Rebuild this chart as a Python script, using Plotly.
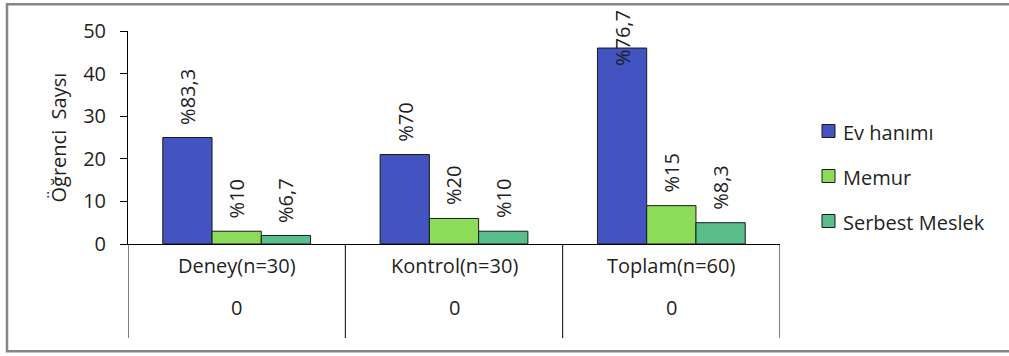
import plotly.graph_objects as go

# Data
categories = ["Deney(n=30)", "Kontrol(n=30)", "Toplam(n=60)"]
sub_labels = ["0", "0", "0"]
series_names = ["Ev hanımı", "Memur", "Serbest Meslek"]
ev_hanimi = [25, 21, 46]
memur = [3, 6, 9]
serbest_meslek = [2, 3, 5]
ev_hanimi_pct = ["%83,3", "%70", "%76,7"]
memur_pct = ["%10", "%20", "%15"]
serbest_meslek_pct = ["%6,7", "%10", "%8,3"]
y_ticks = [0, 10, 20, 30, 40, 50]

values = [ev_hanimi, memur, serbest_meslek]
pct_labels = [ev_hanimi_pct, memur_pct, serbest_meslek_pct]
colors = ["#4353BF", "#8CDC5A", "#5ABE8C"]

# Layout geometry (pixels)
W, H = 1009, 356
L, R, T, B = 128, 780, 31, 244
PW, PH = R - L, B - T
FONT = "Open Sans"
TXT = "#1f1f1f"
FS = 20


def px_x(px):
    return (px - L) / PW


def px_y(py):
    return (B - py) / PH


bargap = 0.32
bar_w = (1 - bargap) / len(series_names)
x_pos = list(range(len(categories)))

fig = go.Figure()
for name, vals, col in zip(series_names, values, colors):
    fig.add_trace(go.Bar(
        x=x_pos, y=vals, name=name,
        marker=dict(color=col, line=dict(color="#1a1a1a", width=1)),
        showlegend=False,
    ))

annotations = []
shapes = []

# Rotated value labels above bars; a label that would run past the
# top of the frame is pinned to the frame top instead.
label_room = 17  # data units needed above a bar for the label
for j, (vals, labs) in enumerate(zip(values, pct_labels)):
    offset = (j - 1) * bar_w
    for i, (v, t) in enumerate(zip(vals, labs)):
        base = dict(x=i + offset, xref="x", xanchor="center", text=t, textangle=-90,
                    showarrow=False, font=dict(family=FONT, size=FS, color=TXT))
        if v + label_room > y_ticks[-1] + 3:
            annotations.append(dict(base, y=px_y(8), yref="paper", yanchor="top"))
        else:
            annotations.append(dict(base, y=v, yref="y", yanchor="bottom", yshift=11))

# Category labels and the second label row
for i, (c, s) in enumerate(zip(categories, sub_labels)):
    annotations.append(dict(x=i, xref="x", xanchor="center", y=px_y(281), yref="paper",
                            text=c, showarrow=False,
                            font=dict(family=FONT, size=FS, color=TXT)))
    annotations.append(dict(x=i, xref="x", xanchor="center", y=px_y(323), yref="paper",
                            text=s, showarrow=False,
                            font=dict(family=FONT, size=FS, color=TXT)))

# Category divider lines below the axis
for k in range(len(categories) + 1):
    shapes.append(dict(type="line", xref="x", yref="paper", x0=k - 0.5, x1=k - 0.5,
                       y0=0, y1=px_y(338), line=dict(color="#000000", width=1)))

# Y axis title
annotations.append(dict(x=px_x(58), xref="paper", xanchor="center",
                        y=0.5, yref="paper", yanchor="middle",
                        text="Öğrenci  Saysı", textangle=-90, showarrow=False,
                        font=dict(family=FONT, size=FS, color=TXT)))

# Legend
for j, (name, col) in enumerate(zip(series_names, colors)):
    cy = 131 + 45 * j
    shapes.append(dict(type="rect", xref="paper", yref="paper",
                       x0=px_x(822), x1=px_x(835), y0=px_y(cy - 6.5), y1=px_y(cy + 6.5),
                       fillcolor=col, line=dict(color="#1a1a1a", width=1)))
    annotations.append(dict(x=px_x(841), xref="paper", y=px_y(cy + 1), yref="paper",
                            xanchor="left", yanchor="middle", text=name, showarrow=False,
                            font=dict(family=FONT, size=FS, color=TXT)))

# Outer frame
shapes.append(dict(type="rect", xref="paper", yref="paper",
                   x0=px_x(7), x1=px_x(1014), y0=px_y(4.3), y1=px_y(351.3),
                   line=dict(color="#858585", width=2.5), fillcolor="rgba(0,0,0,0)"))

fig.update_layout(
    width=W, height=H,
    margin=dict(l=L, r=W - R, t=T, b=H - B, pad=0),
    paper_bgcolor="white", plot_bgcolor="white",
    barmode="group", bargap=bargap, bargroupgap=0,
    font=dict(family=FONT, size=FS, color=TXT),
    annotations=annotations, shapes=shapes,
    xaxis=dict(range=[-0.5, len(categories) - 0.5], showticklabels=False, ticks="",
               showgrid=False, zeroline=False, showline=True, linecolor="#000000",
               linewidth=1, fixedrange=True),
    yaxis=dict(range=[0, 50], tickvals=y_ticks, ticks="outside", ticklen=7,
               tickcolor="#000000", showgrid=False, zeroline=False, showline=True,
               linecolor="#000000", linewidth=1, ticklabelstandoff=10,
               tickfont=dict(family=FONT, size=FS, color=TXT), fixedrange=True),
)

fig.write_html("out.html", config={"displayModeBar": False})
